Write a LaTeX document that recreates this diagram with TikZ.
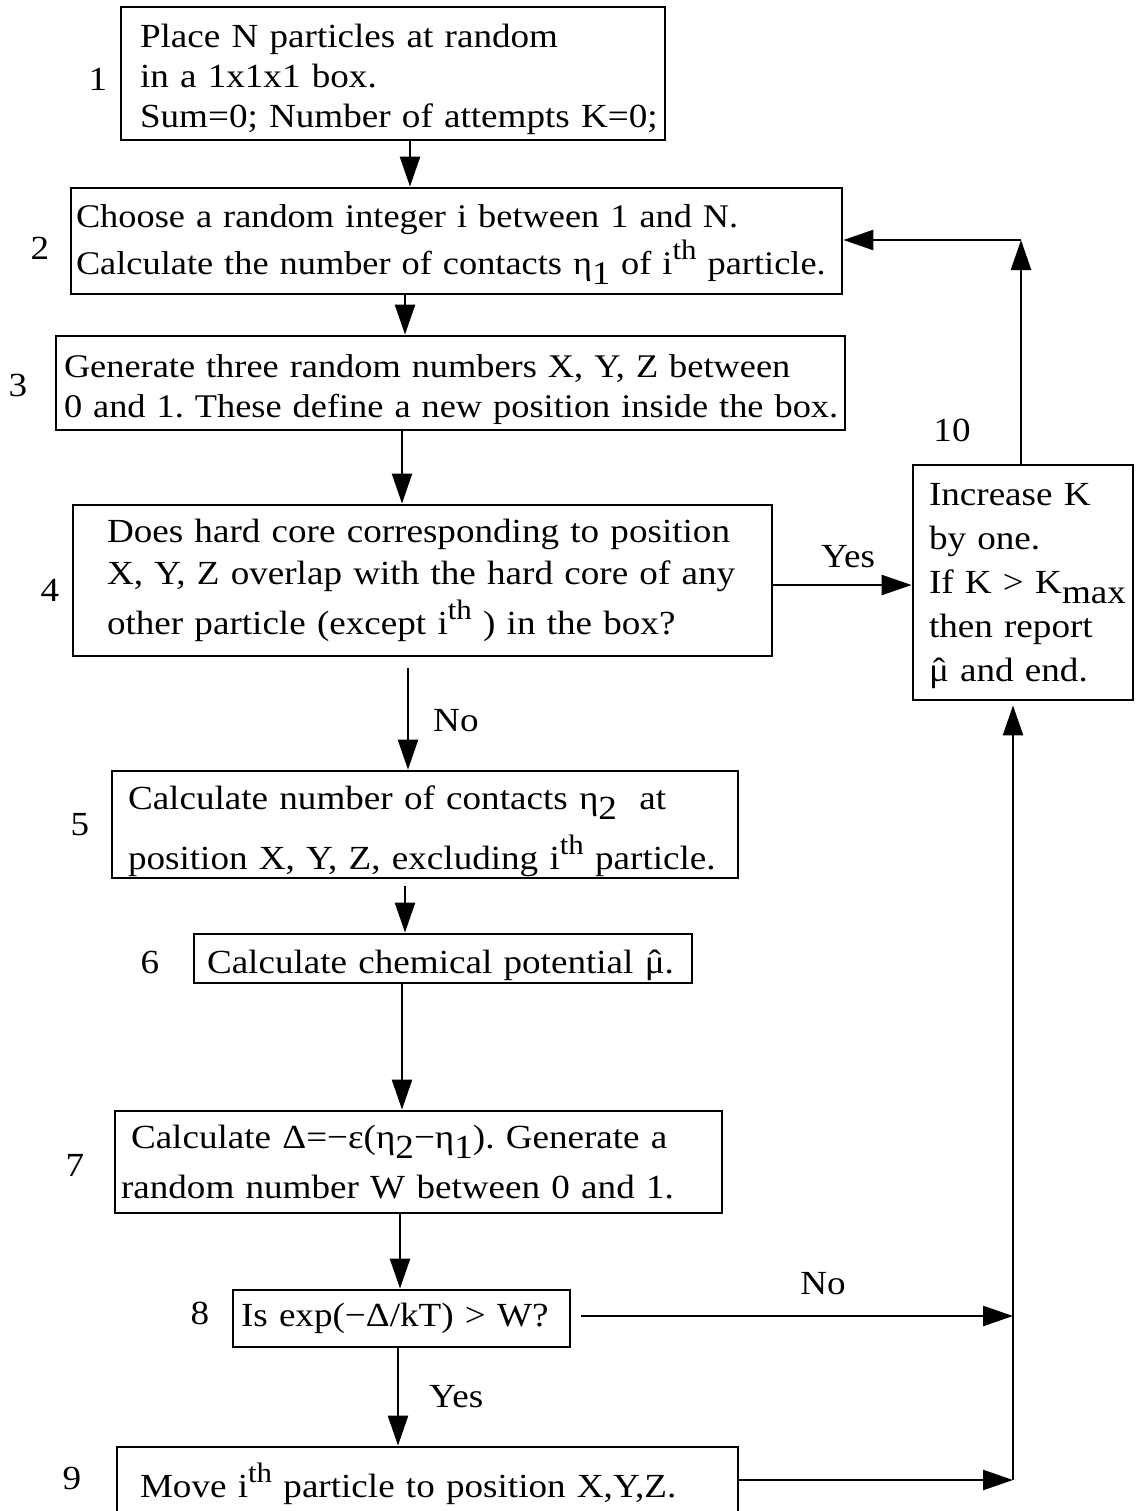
\documentclass[tikz,border=0pt]{standalone}
\usepackage{fontspec}
\setmainfont[FakeStretch=1.10]{Liberation Serif}
\usetikzlibrary{arrows.meta, calc}
\frenchspacing
\newcommand{\subtxt}[1]{\raisebox{-0.3em}{#1}}
\newcommand{\suptxt}[1]{\raisebox{0.45em}{\fontsize{8}{8}\selectfont #1}}
\newcommand{\muhat}{\ooalign{μ\cr\hidewidth ˆ\hidewidth\cr}}
\tikzset{
  stepbox/.style = {draw, line width=0.8pt, align=left, inner xsep=0pt,
                    inner ysep=0pt},
  lead/.style    = {font=\fontsize{9.6}{#1}\selectfont},
  pad/.style     = {execute at begin node={\leftskip=#1\relax}},
  sink/.style    = {execute at begin node={\rule{0pt}{#1}}},
  stepnum/.style = {inner sep=0pt},
  answer/.style  = {inner sep=0pt},
  flow/.style    = {line width=0.7pt, -{Triangle[length=3mm, width=2mm]}},
}
\begin{document}
\begin{tikzpicture}[x=0.1mm, y=-0.1mm, font=\fontsize{9.6}{11.4}\selectfont]
  \useasboundingbox (0,0) rectangle (1135,1511);
  % steps
  \node[stepbox, minimum width=54.4mm, minimum height=13.3mm, text width=53.8mm,
    pad=1.6mm, sink=10pt] (b1) at (393,73.5) {Place N particles at random\\
    in a 1x1x1 box.\\Sum=0; Number of attempts K=0;};
  \node[stepbox, font=\fontsize{9.4}{13.5}\selectfont, minimum width=77.1mm,
    minimum height=10.6mm, text width=76.5mm, pad=0.2mm, sink=8.5pt]
    (b2) at (456.5,241)
    {Choose a random integer i between 1 and N.\\
    Calculate the number of contacts η\subtxt{1} of i\suptxt{th} particle.};
  \node[stepbox, font=\fontsize{9.4}{11.4}\selectfont, minimum width=78.9mm,
    minimum height=9.4mm, text width=78.3mm, pad=0.5mm, sink=10.5pt]
    (b3) at (450.5,383)
    {Generate three random numbers X, Y, Z between\\
    0 and 1. These define a new position inside the box.};
  \node[stepbox, lead=12pt, minimum width=69.9mm, minimum height=15.1mm,
    text width=69.3mm, pad=3.1mm] (b4) at (422.5,580.5)
    {Does hard core corresponding to position\\
    X, Y, Z overlap with the hard core of any\\[2.3pt]
    other particle (except i\suptxt{th} ) in the box?};
  \node[stepbox, lead=17pt, minimum width=62.6mm, minimum height=10.7mm,
    text width=62mm, pad=1.3mm, sink=10.5pt] (b5) at (425,824.5)
    {Calculate number of contacts η\subtxt{2}\ \ at\\
    position X, Y, Z, excluding i\suptxt{th} particle.};
  \node[stepbox, minimum width=49.8mm, minimum height=4.9mm, text width=49.2mm,
    pad=1mm, sink=10.5pt] (b6) at (443,958.5)
    {Calculate chemical potential \muhat.};
  \node[stepbox, lead=14pt, minimum width=60.7mm, minimum height=10.2mm,
    text width=60.1mm, pad=0.3mm] (b7) at (418.5,1162)
    {\hspace*{1mm}Calculate Δ=−ε(η\subtxt{2}−η\subtxt{1}). Generate a\\
    random number W between 0 and 1.};
  \node[stepbox, minimum width=33.7mm, minimum height=5.7mm, text width=33.1mm,
    pad=0.5mm] (b8) at (401.5,1318.5) {Is exp(−Δ/kT) > W?};
  \node[stepbox, minimum width=62.1mm, minimum height=7.3mm, text width=61.5mm,
    pad=2mm] (b9) at (427.5,1483.5) {Move i\suptxt{th} particle to position X,Y,Z.};
  \node[stepbox, lead=12.5pt, minimum width=22mm, minimum height=23.5mm,
    text width=21.4mm, pad=1.3mm] (b10) at (1023,582.5)
    {Increase K\\by one.\\If K > K\subtxt{max}\\then report\\\muhat{} and end.};

  \node[stepnum] (n1) at (98,79) {1};
  \node[stepnum] (n2) at (40,248) {2};
  \node[stepnum] (n3) at (18,385) {3};
  \node[stepnum] (n4) at (50,590) {4};
  \node[stepnum] (n5) at (80,825) {5};
  \node[stepnum] (n6) at (150,962) {6};
  \node[stepnum] (n7) at (75,1165) {7};
  \node[stepnum] (n8) at (200,1313) {8};
  \node[stepnum] (n9) at (72,1478) {9};
  \node[stepnum] (n10) at (952,430) {10};

  \coordinate (loopup) at (1021,240);
  \coordinate (rail) at (1013,1480);

  % main column
  \draw[flow] (b1.south -| 410,0) -- (b2.north -| 410,0);
  \draw[flow] (b2.south -| 405,0) -- (b3.north -| 405,0);
  \draw[flow] (b3.south -| 402,0) -- (b4.north -| 402,0);
  \draw[flow, shorten <=1.1mm] (b4.south -| 408,0) --
    node[answer, pos=0.56, right=2.4mm] {No} (b5.north -| 408,0);
  \draw[flow, shorten <=0.7mm] (b5.south -| 405,0) -- (b6.north -| 405,0);
  \draw[flow] (b6.south -| 402,0) -- (b7.north -| 402,0);
  \draw[flow] (b7.south -| 400,0) -- (b8.north -| 400,0);
  \draw[flow] (b8.south -| 398,0) --
    node[answer, pos=0.5, right=3mm] {Yes} (b9.north -| 398,0);

  % loop back
  \draw[flow] (b4.east |- 0,585) --
    node[answer, pos=0.54, above=1.6mm] {Yes} (b10.west |- 0,585);
  \draw[flow] (b10.north -| loopup) -- (loopup);
  \draw[flow] (loopup) -- (b2.east |- loopup);
  \draw[flow, shorten <=1mm] (b8.east |- 0,1316) --
    node[answer, pos=0.57, above=2mm] {No} (rail |- 0,1316);
  \draw[flow] (b9.east |- rail) -- (rail);
  \draw[flow, shorten >=0.4mm] (rail) -- (b10.south -| rail);
\end{tikzpicture}
\end{document}
